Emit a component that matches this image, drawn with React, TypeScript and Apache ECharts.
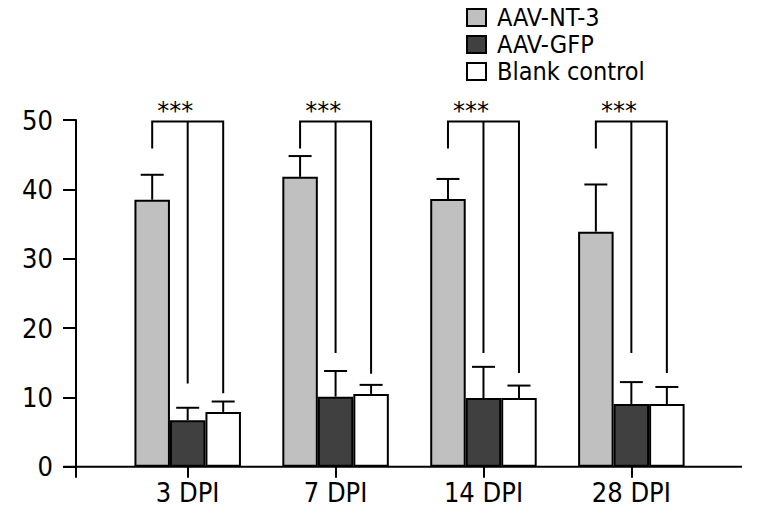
import React, { useEffect, useRef } from "react";
import * as echarts from "echarts";

const categories = ["3 DPI", "7 DPI", "14 DPI", "28 DPI"];
const seriesNames = ["AAV-NT-3", "AAV-GFP", "Blank control"];
const seriesColors = ["#c0c0c0", "#404040", "#ffffff"];

const ntMean = [38.5, 41.8, 38.6, 33.9];
const ntErr = [3.6, 3.0, 2.9, 6.8];
const gfpMean = [6.7, 10.1, 9.9, 9.05];
const gfpErr = [1.8, 3.7, 4.5, 3.15];
const blankMean = [7.9, 10.5, 9.9, 9.05];
const blankErr = [1.5, 1.3, 1.8, 2.45];

// significance brackets: leg end values for each group, and bracket top
const bracketTop = [49.8, 49.8, 49.8, 49.8];
const bracketNtEnd = [45.9, 45.9, 45.9, 45.9];
const bracketGfpEnd = [12.0, 16.4, 16.4, 16.4];
const bracketBlankEnd = [10.6, 13.4, 13.5, 13.5];
const sigLabel = ["***", "***", "***", "***"];

const yTicks = [0, 10, 20, 30, 40, 50];

const FONT = "'Liberation Sans Narrow', 'DejaVu Sans Condensed', sans-serif";
const BAR_W = 35.5;
const CAP_W = 23;

export default function App() {
  const ref = useRef<HTMLDivElement>(null);

  useEffect(() => {
    if (!ref.current) return;
    const chart = echarts.init(ref.current, null, { renderer: "svg" });

    const means = [ntMean, gfpMean, blankMean];
    const errs = [ntErr, gfpErr, blankErr];
    const errData: number[][] = [];
    means.forEach((m, s) => {
      m.forEach((v, i) => errData.push([i, s, v, errs[s][i]]));
    });
    const bracketData = categories.map((_, i) => [
      i,
      bracketNtEnd[i],
      bracketGfpEnd[i],
      bracketBlankEnd[i],
      bracketTop[i],
    ]);

    const gridLeft = 113.75;
    const gridTop = 120;
    const gridBottom = 47.3;
    const gridRight = 65.7;
    const zeroY = 514 - gridBottom;

    chart.setOption({
      animation: false,
      grid: { left: gridLeft, right: gridRight, top: gridTop, bottom: gridBottom },
      legend: {
        data: seriesNames,
        orient: "vertical",
        left: 466,
        top: 4,
        padding: 0,
        itemWidth: 19,
        itemHeight: 17,
        itemGap: 0,
        selectedMode: false,
        icon: "rect",
        textStyle: {
          fontFamily: FONT,
          fontSize: 25,
          lineHeight: 27,
          color: "#000",
          padding: [0, 0, 0, 6],
        },
      },
      xAxis: {
        type: "category",
        data: categories,
        axisLine: { show: false },
        axisTick: { show: true, alignWithLabel: true, length: 11, lineStyle: { color: "#000", width: 2 } },
        axisLabel: { color: "#000", fontFamily: FONT, fontSize: 27, margin: 12 },
      },
      yAxis: {
        type: "value",
        min: yTicks[0],
        max: yTicks[yTicks.length - 1],
        interval: 10,
        offset: gridLeft - 76,
        splitLine: { show: false },
        axisLine: { show: true, lineStyle: { color: "#000", width: 2 } },
        axisTick: { show: true, length: 13, lineStyle: { color: "#000", width: 2 } },
        axisLabel: { color: "#000", fontFamily: FONT, fontSize: 27, margin: 23 },
      },
      graphic: [
        { type: "line", shape: { x1: 63, y1: zeroY, x2: 742, y2: zeroY }, style: { stroke: "#000", lineWidth: 2 }, z: 10 },
        { type: "line", shape: { x1: 76, y1: zeroY, x2: 76, y2: zeroY + 11 }, style: { stroke: "#000", lineWidth: 2 }, z: 10 },
      ],
      series: [
        ...seriesNames.map((name, s) => ({
          name,
          type: "bar",
          data: means[s],
          barWidth: BAR_W,
          barGap: "0%",
          itemStyle: { color: seriesColors[s], borderColor: "#000", borderWidth: 2 },
          z: 2,
        })),
        {
          type: "custom",
          name: "errors",
          data: errData,
          encode: { x: 0, y: 2 },
          clip: false,
          z: 3,
          renderItem: (params: any, api: any) => {
            const i = api.value(0);
            const s = api.value(1);
            const m = api.value(2);
            const e = api.value(3);
            const base = api.coord([i, m]);
            const top = api.coord([i, m + e]);
            const x = base[0] + (s - 1) * BAR_W;
            const st = { stroke: "#000", lineWidth: 2 };
            return {
              type: "group",
              children: [
                { type: "line", shape: { x1: x, y1: base[1], x2: x, y2: top[1] }, style: st },
                { type: "line", shape: { x1: x - CAP_W / 2, y1: top[1], x2: x + CAP_W / 2, y2: top[1] }, style: st },
              ],
            };
          },
        },
        {
          type: "custom",
          name: "brackets",
          data: bracketData,
          encode: { x: 0, y: 4 },
          clip: false,
          z: 3,
          renderItem: (params: any, api: any) => {
            const i = api.value(0);
            const c = api.coord([i, api.value(4)]);
            const yNt = api.coord([i, api.value(1)])[1];
            const yGfp = api.coord([i, api.value(2)])[1];
            const yBl = api.coord([i, api.value(3)])[1];
            const xg = c[0] - BAR_W;
            const xd = c[0];
            const xw = c[0] + BAR_W;
            const st = { stroke: "#000", lineWidth: 2, fill: "none" };
            return {
              type: "group",
              children: [
                {
                  type: "polyline",
                  shape: { points: [[xg, yNt], [xg, c[1]], [xw, c[1]], [xw, yBl]] },
                  style: st,
                },
                { type: "line", shape: { x1: xd, y1: c[1], x2: xd, y2: yGfp }, style: st },
                {
                  type: "text",
                  x: c[0] - 0.35 * BAR_W,
                  y: c[1] - 10,
                  style: {
                    text: sigLabel[i],
                    fontFamily: "'DejaVu Sans', sans-serif",
                    fontSize: 24,
                    fill: "#000",
                    align: "center",
                    verticalAlign: "middle",
                  },
                },
              ],
            };
          },
        },
      ],
    });

    return () => chart.dispose();
  }, []);

  return (
    <div
      ref={ref}
      style={{ position: "fixed", left: 0, top: 0, width: 771, height: 514, background: "#fff" }}
    />
  );
}
